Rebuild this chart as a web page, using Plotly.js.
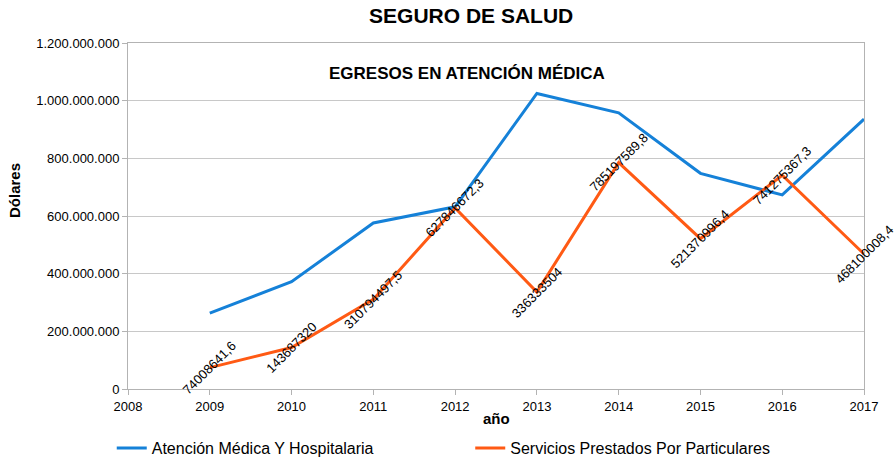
<!DOCTYPE html>
<html>
<head>
<meta charset="utf-8">
<script src="https://cdn.plot.ly/plotly-3.0.1.min.js"></script>
<style>html,body{margin:0;padding:0;background:#fff;}#chart{width:894px;height:461px;}</style>
</head>
<body>
<div id="chart"></div>
<script>
const years = [2009, 2010, 2011, 2012, 2013, 2014, 2015, 2016, 2017];
const atencionMedica = [263000000, 372000000, 576000000, 632000000, 1025000000, 958000000, 748000000, 673000000, 936000000];
const serviciosParticulares = [74008641.6, 143687320, 310794497.5, 627846672.3, 336333504, 785197589.8, 521370996.4, 741275367.3, 468100008.4];
const serviciosLabels = ["74008641,6", "143687320", "310794497,5", "627846672,3", "336333504", "785197589,8", "521370996,4", "741275367,3", "468100008,4"];
const seriesNames = ["Atención Médica Y Hospitalaria", "Servicios Prestados Por Particulares"];

const FONT = "Liberation Sans, Arial, sans-serif";
const traces = [
  {x: years, y: atencionMedica, type: "scatter", mode: "lines", name: seriesNames[0],
   line: {color: "#1581d8", width: 3}, legend: "legend"},
  {x: years, y: serviciosParticulares, type: "scatter", mode: "lines", name: seriesNames[1],
   line: {color: "#ff5a14", width: 3}, legend: "legend2"}
];

const annotations = years.map((yr, i) => ({
  x: yr, y: serviciosParticulares[i], xref: "x", yref: "y",
  text: serviciosLabels[i], showarrow: false, textangle: -45,
  xanchor: "center", yanchor: "middle",
  font: {family: FONT, size: 13, color: "#000"}
}));
annotations.push({
  text: "<b>EGRESOS EN ATENCIÓN MÉDICA</b>", xref: "paper", yref: "paper",
  x: 0.4606, y: 0.913, xanchor: "center", yanchor: "middle",
  showarrow: false, font: {family: FONT, size: 17, color: "#000"}
});
annotations.push({
  text: "<b>año</b>", xref: "paper", yref: "paper", x: 0.5, y: -0.084,
  xanchor: "center", yanchor: "middle",
  showarrow: false, font: {family: FONT, size: 15, color: "#000"}
});
annotations.push({
  text: "<b>Dólares</b>", xref: "paper", yref: "paper", x: -0.155, y: 0.575,
  xanchor: "center", yanchor: "middle",
  textangle: -90, showarrow: false, font: {family: FONT, size: 15, color: "#000"}
});

const legendCommon = {orientation: "h", xref: "container", yref: "container", xanchor: "left",
  y: 0.028, yanchor: "middle", font: {family: FONT, size: 16, color: "#000"}, bgcolor: "rgba(0,0,0,0)"};

const layout = {
  width: 894, height: 461,
  margin: {l: 128, r: 30, t: 43, b: 72},
  paper_bgcolor: "#fff", plot_bgcolor: "#fff",
  separators: ",.",
  font: {family: FONT, size: 13, color: "#000"},
  title: {text: "<b>SEGURO DE SALUD</b>", x: 0.527, xanchor: "center", y: 0.967, yanchor: "middle",
          font: {family: FONT, size: 21, color: "#000"}},
  xaxis: {
    range: [2008, 2017], tick0: 2008, dtick: 1, showgrid: false, zeroline: false,
    showline: true, mirror: true, linecolor: "#b3b3b3", linewidth: 1,
    ticks: "outside", ticklen: 5, tickcolor: "#b3b3b3",
    tickfont: {family: FONT, size: 13, color: "#000"}
  },
  yaxis: {
    range: [0, 1200000000], dtick: 200000000, tickformat: ",d",
    showgrid: true, gridcolor: "#c8c8c8", gridwidth: 1, zeroline: false,
    showline: true, mirror: true, linecolor: "#b3b3b3", linewidth: 1,
    ticks: "outside", ticklen: 5, tickcolor: "#b3b3b3",
    tickfont: {family: FONT, size: 13, color: "#000"}
  },
  showlegend: true,
  legend: Object.assign({}, legendCommon, {x: 0.125}),
  legend2: Object.assign({}, legendCommon, {x: 0.526}),
  annotations: annotations
};

Plotly.newPlot("chart", traces, layout, {displayModeBar: false, staticPlot: true});
</script>
</body>
</html>
